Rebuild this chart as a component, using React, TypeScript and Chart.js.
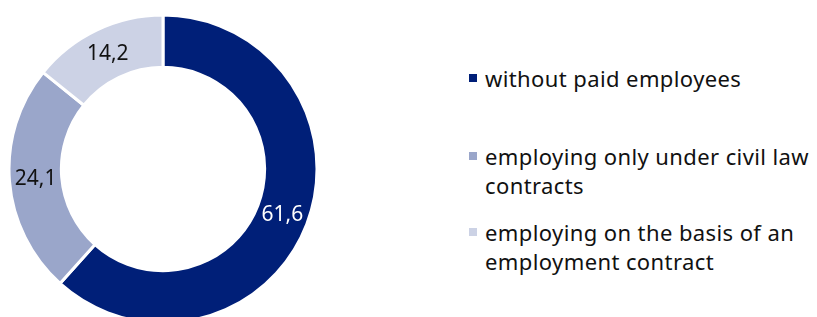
import React, { useEffect, useRef } from "react";
import { Chart, registerables } from "chart.js";

Chart.register(...registerables);

const categories: string[][] = [
  ["without paid employees"],
  ["employing only under civil law", "contracts"],
  ["employing on the basis of an", "employment contract"],
];
const values: number[] = [61.6, 24.1, 14.2];
const colors: string[] = ["#001F78", "#9AA6CA", "#CCD2E5"];
const labelColors: string[] = ["#ffffff", "#111111", "#111111"];

const FONT = "'Noto Sans', 'Open Sans', sans-serif";

const labelPlugin = {
  id: "sliceLabels",
  afterDatasetsDraw(chart: any) {
    const ctx = chart.ctx;
    const meta = chart.getDatasetMeta(0);
    ctx.save();
    ctx.font = `21px ${FONT}`;
    ctx.textAlign = "center";
    ctx.textBaseline = "middle";
    meta.data.forEach((arc: any, i: number) => {
      const p = arc.tooltipPosition();
      ctx.fillStyle = labelColors[i];
      ctx.fillText(values[i].toFixed(1).replace(".", ","), p.x, p.y);
    });
    ctx.restore();
  },
};

export default function App() {
  const ref = useRef<HTMLCanvasElement | null>(null);
  useEffect(() => {
    if (!ref.current) return;
    const chart = new Chart(ref.current, {
      type: "doughnut",
      data: {
        labels: categories.map((c) => c.join(" ")),
        datasets: [
          {
            data: values,
            backgroundColor: colors,
            borderColor: "#ffffff",
            borderWidth: 3,
          },
        ],
      },
      options: {
        responsive: false,
        animation: false,
        radius: 154,
        cutout: "66%",
        layout: { padding: 0 },
        plugins: { legend: { display: false }, tooltip: { enabled: false } },
      },
      plugins: [labelPlugin],
    });
    return () => chart.destroy();
  }, []);

  const tops = [55.5, 133.5, 209.5];
  return (
    <div style={{ position: "relative", width: 809, height: 309, overflow: "hidden", fontFamily: FONT }}>
      <canvas ref={ref} width={310} height={310} style={{ position: "absolute", left: 0, top: 6, width: 310, height: 310 }} />
      {categories.map((lines, i) => (
        <div key={i} style={{ position: "absolute", left: 461, top: tops[i] }}>
          <div
            style={{
              position: "absolute",
              left: 0,
              top: 10.5,
              width: 8,
              height: 8,
              background: colors[i],
            }}
          />
          <div
            style={{
              position: "absolute",
              left: 16,
              top: 0,
              fontSize: 22,
              letterSpacing: "0.4px",
              lineHeight: "29px",
              color: "#111",
              whiteSpace: "nowrap",
            }}
          >
            {lines.map((l, j) => (
              <div key={j}>{l}</div>
            ))}
          </div>
        </div>
      ))}
    </div>
  );
}
